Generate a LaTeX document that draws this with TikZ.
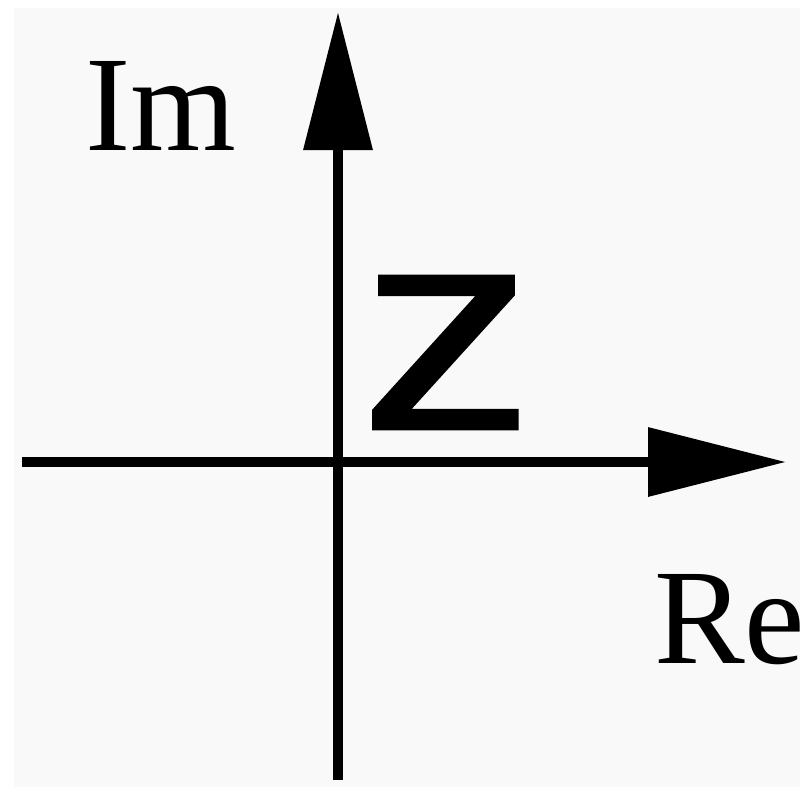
\documentclass[tikz,border=0pt]{standalone}
\usepackage{fontspec}
\setmainfont{Liberation Serif}
\newfontfamily\zfont[FakeBold=0.6]{Liberation Sans}
\usetikzlibrary{arrows.meta}
\definecolor{bgpanel}{HTML}{F9F9F9}
\tikzset{
  axis/.style={line width=10pt, -{Triangle[length=138pt,width=67pt]}},
  lbl/.style={inner sep=0pt, anchor=base west, font=\fontsize{136}{136}\selectfont},
}
\begin{document}
\begin{tikzpicture}[x=1pt,y=-1pt]
  \useasboundingbox (0,0) rectangle (808,789);
  \fill[white] (0,0) rectangle (808,789);
  \fill[bgpanel] (14,8) rectangle (800,787);
  \coordinate (xl) at (22,462);
  \coordinate (xr) at (786,462);
  \coordinate (yb) at (338,780);
  \coordinate (yt) at (338,12);
  \draw[axis] (xl) -- (xr);
  \draw[axis] (yb) -- (yt);
  \node[lbl] (im) at (85,150) {Im};
  \begin{scope}
    \clip (14,8) rectangle (800,787);
    \node[lbl] (re) at (654,663) {Re};
  \end{scope}
  \node[inner sep=0pt, anchor=center] (z) at (447,352.5) {\resizebox{176pt}{154pt}{\zfont\fontsize{100}{100}\selectfont z}};
\end{tikzpicture}
\end{document}
